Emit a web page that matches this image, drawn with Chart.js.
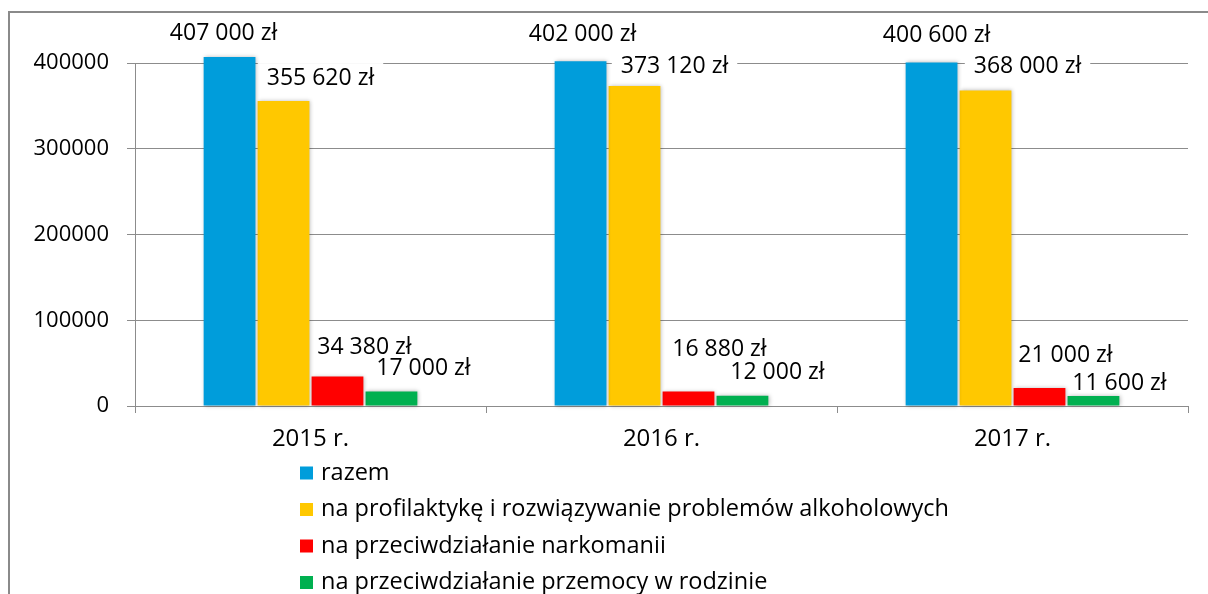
<!DOCTYPE html>
<html>
<head>
<meta charset="utf-8">
<script src="https://cdn.jsdelivr.net/npm/chart.js@4"></script>
<style>
  html, body { margin: 0; padding: 0; background: #fff; }
  #wrap { position: relative; width: 1208px; height: 594px; }
</style>
</head>
<body>
<div id="wrap"><canvas id="chart" width="1208" height="594"></canvas></div>
<script>
// ---------------------------
// Data
// ---------------------------
const years = ["2015 r.", "2016 r.", "2017 r."];
const seriesNames = [
  "razem",
  "na profilaktykę i rozwiązywanie problemów alkoholowych",
  "na przeciwdziałanie narkomanii",
  "na przeciwdziałanie przemocy w rodzinie"
];
const razem = [407000, 402000, 400600];
const alkohol = [355620, 373120, 368000];
const narkomania = [34380, 16880, 21000];
const przemoc = [17000, 12000, 11600];
const yTicks = [0, 100000, 200000, 300000, 400000];

const colors = ["#009ddb", "#ffc800", "#ff0000", "#00b050"];
const FONT = "'Open Sans', 'Noto Sans', sans-serif";

// hand-placed label offsets (dx from bar centre, dy of text centre from bar top)
const labelOffsets = [
  [[-6, -25], [2, -28], [5, -28]],
  [[37, -24], [40, -21], [42, -25]],
  [[27, -30], [31, -43], [26, -34]],
  [[32, -24], [35, -24], [26, -14]]
];

function fmtZl(v){
  return String(v).replace(/\B(?=(\d{3})+(?!\d))/g, " ") + " zł";
}

// ---------------------------
// Plugins
// ---------------------------
const frame = {
  id: "frame",
  beforeDraw(chart){
    const ctx = chart.ctx;
    ctx.save();
    ctx.strokeStyle = "#8a8a8a";
    ctx.lineWidth = 2;
    ctx.strokeRect(9, 12, 1400, 800);
    ctx.restore();
  }
};

function eachLabel(chart, fn){
  chart.data.datasets.forEach((ds, di)=>{
    const meta = chart.getDatasetMeta(di);
    meta.data.forEach((bar, i)=>{
      const off = labelOffsets[di][i];
      fn(fmtZl(ds.data[i]), bar.x + off[0], bar.y + off[1]);
    });
  });
}

// label boxes go under the bars (they only hide gridlines), text goes on top
const valueLabels = {
  id: "valueLabels",
  beforeDatasetsDraw(chart){
    const ctx = chart.ctx;
    ctx.save();
    ctx.font = "23px " + FONT;
    ctx.fillStyle = "#fff";
    eachLabel(chart, (txt, x, y)=>{
      const w = ctx.measureText(txt).width;
      ctx.fillRect(x - w/2 - 9, y - 14, w + 18, 28);
    });
    ctx.restore();
    // soft shadow for bars
    ctx.save();
    ctx.shadowColor = "rgba(0,0,0,0.28)";
    ctx.shadowBlur = 4;
    ctx.shadowOffsetX = 1;
    ctx.shadowOffsetY = 0;
  },
  afterDatasetsDraw(chart){
    const ctx = chart.ctx;
    ctx.restore();
    ctx.save();
    ctx.font = "23px " + FONT;
    ctx.textAlign = "center";
    ctx.textBaseline = "middle";
    ctx.fillStyle = "#000";
    eachLabel(chart, (txt, x, y)=> ctx.fillText(txt, x, y + 1));
    ctx.restore();
  }
};

const sideLegend = {
  id: "sideLegend",
  afterDraw(chart){
    const ctx = chart.ctx;
    ctx.save();
    ctx.font = "23.5px " + FONT;
    ctx.textBaseline = "middle";
    ctx.textAlign = "left";
    chart.data.datasets.forEach((ds, i)=>{
      const cy = 473 + i * 36.5;
      ctx.fillStyle = ds.backgroundColor;
      ctx.fillRect(300, cy - 6.5, 13, 13);
      ctx.fillStyle = "#000";
      ctx.fillText(ds.label, 321, cy);
    });
    ctx.restore();
  }
};

// ---------------------------
// Chart
// ---------------------------
const values = [razem, alkohol, narkomania, przemoc];

new Chart(document.getElementById("chart"), {
  type: "bar",
  data: {
    labels: years,
    datasets: values.map((v, i)=>({
      label: seriesNames[i],
      data: v,
      backgroundColor: colors[i],
      borderWidth: 0,
      barPercentage: 0.96,
      categoryPercentage: 0.615,
      clip: false
    }))
  },
  options: {
    responsive: false,
    animation: false,
    layout: { padding: { left: 0, right: 20, top: 63, bottom: 128 } },
    plugins: {
      legend: { display: false },
      tooltip: { enabled: false }
    },
    scales: {
      x: {
        afterFit: s => { s.height = 60; },
        grid: {
          offset: true,
          drawOnChartArea: false,
          drawTicks: true,
          tickLength: 7,
          color: "#8c8c8c"
        },
        border: { color: "#8c8c8c", width: 1 },
        ticks: {
          color: "#000",
          padding: 12,
          font: { family: FONT, size: 24 }
        }
      },
      y: {
        min: 0,
        max: 400000,
        afterFit: s => { s.width = 135; },
        afterBuildTicks: s => { s.ticks = yTicks.map(v => ({ value: v })); },
        grid: {
          color: "#8c8c8c",
          tickLength: 8,
          drawTicks: true
        },
        border: { color: "#8c8c8c", width: 1 },
        ticks: {
          color: "#000",
          padding: 18,
          font: { family: FONT, size: 22 },
          callback: v => String(v)
        }
      }
    }
  },
  plugins: [frame, valueLabels, sideLegend]
});
</script>
</body>
</html>
